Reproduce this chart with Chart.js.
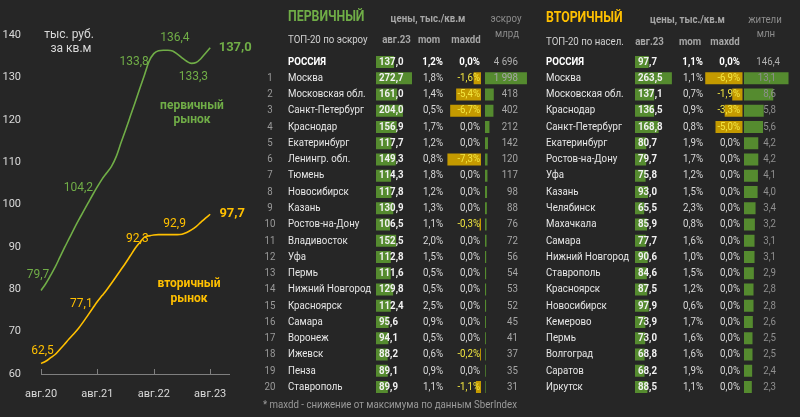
<!DOCTYPE html>
<html>
<head>
<meta charset="utf-8">
<script src="https://cdn.jsdelivr.net/npm/chart.js@4.4.1/dist/chart.umd.min.js"></script>
<style>
  html, body { margin: 0; padding: 0; background: #262626; }
  #wrap { position: relative; width: 800px; height: 417px; overflow: hidden; }
  canvas { position: absolute; top: 0; }
</style>
</head>
<body>
<div id="wrap">
  <canvas id="lineChart" width="255" height="417" style="left:0"></canvas>
  <canvas id="primTable" width="280" height="417" style="left:250px"></canvas>
  <canvas id="secTable" width="270" height="417" style="left:530px"></canvas>
</div>
<script>
// ---------- данные: график цен ----------
const months = [
  'авг.20','сен.20','окт.20','ноя.20','дек.20','янв.21','фев.21','мар.21','апр.21','май.21','июн.21','июл.21',
  'авг.21','сен.21','окт.21','ноя.21','дек.21','янв.22','фев.22','мар.22','апр.22','май.22','июн.22','июл.22',
  'авг.22','сен.22','окт.22','ноя.22','дек.22','янв.23','фев.23','мар.23','апр.23','май.23','июн.23','июл.23',
  'авг.23','сен.23','окт.23','ноя.23','дек.23'
];
const xTicks = ['авг.20', 'авг.21', 'авг.22', 'авг.23'];

// первичный рынок, тыс. руб. за кв.м
const primary = [
  79.7, 81.3, 83.2, 85.2, 87.5, 89.8, 92.0, 94.2, 96.3, 98.3, 100.3, 102.3,
  104.2, 106.0, 107.5, 109.0, 111.3, 114.5, 117.6, 120.8, 124.0, 127.3, 130.5, 133.8,
  135.6, 136.3, 136.4, 136.4, 136.2, 135.5, 134.6, 133.8, 133.3, 133.5, 134.4, 135.7,
  137.0
];
// вторичный рынок
const secondary = [
  62.5, 63.0, 63.8, 64.6, 65.8, 67.0, 68.3, 69.5, 70.8, 72.3, 73.9, 75.5,
  77.1, 78.5, 79.9, 81.4, 83.0, 84.6, 86.2, 87.9, 89.6, 91.0, 92.3, 92.6,
  92.8, 92.9, 92.9, 92.9, 92.9, 92.9, 93.0, 93.4, 94.0, 94.8, 95.8, 96.8,
  97.7
];
const primaryMarks = [0, 12, 23, 27, 32, 36];
const secondaryMarks = [0, 12, 22, 28, 36];

// ---------- данные: таблица первичного рынка ----------
const primNames = ['РОССИЯ', 'Москва', 'Московская обл.', 'Санкт-Петербург', 'Краснодар', 'Екатеринбург',
  'Ленингр. обл.', 'Тюмень', 'Новосибирск', 'Казань', 'Ростов-на-Дону', 'Владивосток', 'Уфа', 'Пермь',
  'Нижний Новгород', 'Красноярск', 'Самара', 'Воронеж', 'Ижевск', 'Пенза', 'Ставрополь'];
const primRank = ['', '1', '2', '3', '4', '5', '6', '7', '8', '9', '10', '11', '12', '13', '14', '15', '16', '17', '18', '19', '20'];
const primAvg = [137.0, 272.7, 161.0, 204.0, 156.9, 117.7, 149.3, 114.3, 117.8, 130.9, 106.5, 152.5, 112.8,
  111.6, 129.8, 112.4, 95.6, 94.1, 88.2, 89.1, 89.9];
const primMom = [1.2, 1.8, 1.4, 0.5, 1.7, 1.2, 0.8, 1.8, 1.2, 1.3, 1.1, 2.0, 1.5, 0.5, 0.5, 2.5, 0.9, 0.5, 0.6, 0.9, 1.1];
const primMaxdd = [0.0, -1.6, -5.4, -6.7, 0.0, 0.0, -7.3, 0.0, 0.0, 0.0, -0.3, 0.0, 0.0, 0.0, 0.0, 0.0, 0.0, 0.0, -0.2, 0.0, -1.1];
const primEscrow = [4696, 1998, 418, 402, 212, 142, 120, 117, 98, 88, 76, 72, 56, 54, 53, 52, 45, 41, 37, 35, 31];

// ---------- данные: таблица вторичного рынка ----------
const secNames = ['РОССИЯ', 'Москва', 'Московская обл.', 'Краснодар', 'Санкт-Петербург', 'Екатеринбург',
  'Ростов-на-Дону', 'Уфа', 'Казань', 'Челябинск', 'Махачкала', 'Самара', 'Нижний Новгород', 'Ставрополь',
  'Красноярск', 'Новосибирск', 'Кемерово', 'Пермь', 'Волгоград', 'Саратов', 'Иркутск'];
const secAvg = [97.7, 263.5, 137.1, 136.5, 168.8, 80.7, 79.7, 75.8, 93.0, 65.5, 85.9, 77.7, 90.6, 84.6,
  87.5, 97.9, 73.9, 73.0, 68.8, 68.2, 88.5];
const secMom = [1.1, 1.1, 0.7, 0.9, 0.8, 1.9, 1.7, 1.2, 1.5, 2.3, 0.8, 1.6, 1.0, 1.5, 1.2, 0.6, 1.7, 1.6, 1.6, 1.9, 1.1];
const secMaxdd = [0.0, -6.9, -1.9, -3.3, -5.0, 0.0, 0.0, 0.0, 0.0, 0.0, 0.0, 0.0, 0.0, 0.0, 0.0, 0.0, 0.0, 0.0, 0.0, 0.0, 0.0];
const secPeople = [146.4, 13.1, 8.6, 5.8, 5.6, 4.2, 4.2, 4.1, 4.0, 3.4, 3.2, 3.1, 3.1, 2.9, 2.8, 2.8, 2.6, 2.5, 2.5, 2.4, 2.3];

// ---------- оформление ----------
const FONT = 'Roboto, "Noto Sans", sans-serif';
const GREEN = '#70ad47';
const YELLOW = '#ffc000';
const BAR_GREEN = '#558b2f';
const BAR_GOLD = '#c49a00';
const NEG_TEXT = '#f2e640';
const ROW_TOP = 53.8, ROW_BOTTOM = 395.2;
const SQUEEZE = 0.88; // шрифт в таблицах уже, чем Roboto

function fmt1(v) { return v.toFixed(1).replace('.', ','); }
function pct(v) { return fmt1(v) + '%'; }
function thousands(v) { return String(v).replace(/\B(?=(\d{3})+(?!\d))/g, ' '); }

function txt(ctx, s, x, y, font, color, align, squeeze) {
  ctx.font = font;
  ctx.fillStyle = color;
  ctx.textAlign = align || 'left';
  if (squeeze) ctx.fillText(s, x, y, ctx.measureText(s).width * squeeze);
  else ctx.fillText(s, x, y);
}

// ---------- линейный график ----------
const primaryOffsets = [[-3, -16], [-19, 1], [-15, 1], [7, -12], [2, 14], [25, 0]];
const secondaryOffsets = [[1.5, -12], [-16, 2], [-7, 2], [2, -11], [22, 0]];

const lineLabels = {
  id: 'lineLabels',
  afterDatasetsDraw(chart) {
    const { ctx, scales: { x, y } } = chart;
    ctx.save();
    ctx.textBaseline = 'middle';

    function marks(series, idx, offs, color) {
      idx.forEach((m, k) => {
        const px = x.getPixelForValue(m), py = y.getPixelForValue(series[m]);
        const last = k === idx.length - 1;
        txt(ctx, fmt1(series[m]), px + offs[k][0], py + offs[k][1],
          (last ? 'bold 13px ' : '12px ') + FONT, color, 'center');
      });
    }
    marks(primary, primaryMarks, primaryOffsets, GREEN);
    marks(secondary, secondaryMarks, secondaryOffsets, YELLOW);

    txt(ctx, 'тыс. руб.', 69, 35, '12px ' + FONT, '#d9d9d9', 'center');
    txt(ctx, 'за кв.м', 71, 48.5, '12px ' + FONT, '#d9d9d9', 'center');
    txt(ctx, 'первичный', 192, 106, 'bold 12px ' + FONT, GREEN, 'center');
    txt(ctx, 'рынок', 192, 120, 'bold 12px ' + FONT, GREEN, 'center');
    txt(ctx, 'вторичный', 189, 284, 'bold 12px ' + FONT, YELLOW, 'center');
    txt(ctx, 'рынок', 189, 299, 'bold 12px ' + FONT, YELLOW, 'center');

    // короткие засечки вверх от оси
    ctx.strokeStyle = '#7f7f7f';
    ctx.lineWidth = 1;
    months.forEach((m, i) => {
      if (!xTicks.includes(m)) return;
      const px = Math.round(x.getPixelForValue(i)) + 0.5;
      ctx.beginPath();
      ctx.moveTo(px, chart.chartArea.bottom);
      ctx.lineTo(px, chart.chartArea.bottom - 5);
      ctx.stroke();
    });
    ctx.restore();
  }
};

new Chart(document.getElementById('lineChart'), {
  type: 'line',
  data: {
    labels: months,
    datasets: [
      { data: primary, borderColor: GREEN, borderWidth: 1.6, pointRadius: 0, cubicInterpolationMode: 'monotone', fill: false },
      { data: secondary, borderColor: YELLOW, borderWidth: 1.6, pointRadius: 0, cubicInterpolationMode: 'monotone', fill: false }
    ]
  },
  options: {
    responsive: false,
    animation: false,
    layout: { padding: { top: 35, right: 26, left: 0, bottom: 0 } },
    plugins: { legend: { display: false }, tooltip: { enabled: false } },
    scales: {
      x: {
        grid: { display: false },
        border: { display: true, color: '#7f7f7f', width: 1 },
        ticks: {
          autoSkip: false, maxRotation: 0, color: '#d9d9d9', padding: 6,
          font: { family: FONT, size: 11 },
          callback(v, i) { return xTicks.includes(months[i]) ? months[i] : null; }
        },
        afterFit(s) { s.height = 43; }
      },
      y: {
        min: 60, max: 140,
        grid: { display: false },
        border: { display: false },
        ticks: { stepSize: 10, color: '#d9d9d9', padding: 12, font: { family: FONT, size: 11 } },
        afterFit(s) { s.width = 41; }
      }
    }
  },
  plugins: [lineLabels]
});

// ---------- таблицы ----------
function rangeFor(x0, ppu, width) { return { min: -x0 / ppu, max: (width - x0) / ppu }; }

function tableText(t) {
  return {
    id: 'tableText',
    afterDatasetsDraw(chart) {
      const ctx = chart.ctx, ys = chart.scales.y, c = t.col, q = SQUEEZE;
      ctx.save();
      ctx.textBaseline = 'middle';
      const hb = 'bold 11px ' + FONT, hr = '11px ' + FONT;
      const h = t.head;
      txt(ctx, t.title, c.nameX, h.titleY, 'bold 14px ' + FONT, t.titleColor, 'left', q);
      txt(ctx, 'цены, тыс./кв.м', h.priceX, h.titleY + 2, hb, '#a6a6a6', 'center', q);
      txt(ctx, t.extraHead[0], h.extraX, h.titleY + 2, hr, '#8c8c8c', 'center', q);
      txt(ctx, t.extraHead[1], h.extraX + 1, 34, hr, '#8c8c8c', 'center', q);
      txt(ctx, t.subtitle, c.nameX, h.subY, '11px ' + FONT, '#d0d0d0', 'left', q);
      txt(ctx, 'авг.23', h.avgX, h.subY, hb, '#a6a6a6', 'center', q);
      txt(ctx, 'mom', h.momX, h.subY, hb, '#a6a6a6', 'center', q);
      txt(ctx, 'maxdd', h.ddX, h.subY, hb, '#a6a6a6', 'center', q);

      t.names.forEach((name, i) => {
        const y = ys.getPixelForValue(i);
        const top = i === 0;
        const b = top ? 'bold ' : '';
        if (t.rank) txt(ctx, t.rank[i], c.rankX, y, '11px ' + FONT, '#9a9a9a', 'center', q);
        txt(ctx, name, c.nameX, y, b + '11px ' + FONT, top ? '#ffffff' : '#e6e6e6', 'left', q);
        txt(ctx, fmt1(t.avg[i]), c.avgX + 3, y, 'bold 11px ' + FONT, '#f2f2f2', 'left', q);
        txt(ctx, pct(t.mom[i]), c.momR, y, b + '11px ' + FONT, top ? '#ffffff' : '#d9d9d9', 'right', q);
        txt(ctx, pct(t.maxdd[i]), c.ddR, y, b + '11px ' + FONT,
          t.maxdd[i] < 0 ? NEG_TEXT : (top ? '#ffffff' : '#d9d9d9'), 'right', q);
        txt(ctx, t.extraFmt(t.extra[i]), i === 0 ? c.extraR + t.topShift : c.extraR, y, '11px ' + FONT,
          i === 0 ? '#b0b0b0' : t.extraColor, 'right', q);
      });

      if (t.note) txt(ctx, t.note, 13, 405, '11px ' + FONT, '#9a9a9a', 'left', q);
      ctx.restore();
    }
  };
}

function buildTable(id, t) {
  const W = t.width, c = t.col;
  new Chart(document.getElementById(id), {
    type: 'bar',
    data: {
      labels: t.names,
      datasets: [
        { data: t.avg, xAxisID: 'xa', backgroundColor: BAR_GREEN },
        { data: t.maxdd, xAxisID: 'xd', backgroundColor: BAR_GOLD },
        { data: t.extra.map((v, i) => (i === 0 ? null : v)), xAxisID: 'xe', backgroundColor: BAR_GREEN }
      ]
    },
    options: {
      indexAxis: 'y',
      responsive: false,
      animation: false,
      layout: { padding: { top: ROW_TOP, bottom: 417 - ROW_BOTTOM, left: 0, right: 0 } },
      datasets: { bar: { grouped: false, barPercentage: 0.74, categoryPercentage: 1, borderWidth: 0 } },
      plugins: { legend: { display: false }, tooltip: { enabled: false } },
      scales: {
        y: { display: false, offset: true },
        xa: Object.assign({ type: 'linear', display: false }, rangeFor(c.avgX, c.avgPpu, W)),
        xd: Object.assign({ type: 'linear', display: false }, rangeFor(c.ddX, c.ddPpu, W)),
        xe: Object.assign({ type: 'linear', display: false }, rangeFor(c.extraX, c.extraPpu, W))
      }
    },
    plugins: [tableText(t)]
  });
}

buildTable('primTable', {
  width: 280,
  title: 'ПЕРВИЧНЫЙ', titleColor: GREEN, subtitle: 'ТОП-20 по эскроу',
  extraHead: ['эскроу', 'млрд'],
  names: primNames, rank: primRank, avg: primAvg, mom: primMom, maxdd: primMaxdd, extra: primEscrow,
  extraFmt: thousands, extraColor: '#a6a6a6', topShift: 0,
  note: '* maxdd - снижение от максимума по данным SberIndex',
  head: { titleY: 17, subY: 40, priceX: 178, extraX: 256, avgX: 146.5, momX: 179, ddX: 216 },
  col: { rankX: 20, nameX: 38, avgX: 126, avgPpu: 0.132, momR: 193, ddX: 231, ddPpu: 4.6, ddR: 230,
         extraX: 235, extraPpu: 0.021, extraR: 268 }
});

buildTable('secTable', {
  width: 270,
  title: 'ВТОРИЧНЫЙ', titleColor: YELLOW, subtitle: 'ТОП-20 по насел.',
  extraHead: ['жители', 'млн'],
  names: secNames, rank: null, avg: secAvg, mom: secMom, maxdd: secMaxdd, extra: secPeople,
  extraFmt: fmt1, extraColor: '#8f8f8f', topShift: 4,
  note: null,
  head: { titleY: 18, subY: 42, priceX: 157.5, extraX: 235, avgX: 119.5, momX: 160, ddX: 195 },
  col: { rankX: 0, nameX: 16, avgX: 105, avgPpu: 0.14, momR: 173, ddX: 212.5, ddPpu: 5.4, ddR: 210,
         extraX: 214, extraPpu: 3.4, extraR: 246 }
});
</script>
</body>
</html>
